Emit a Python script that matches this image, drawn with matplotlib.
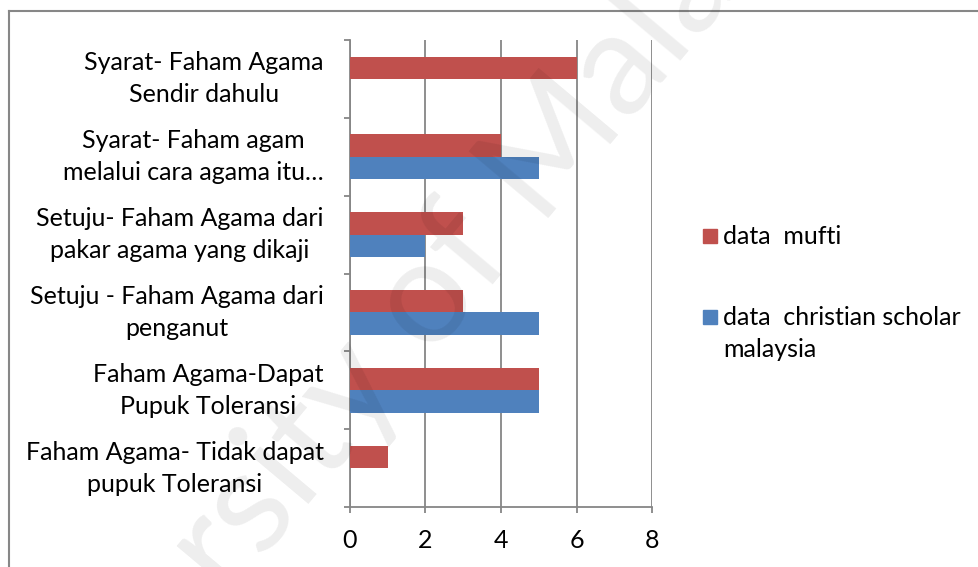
import numpy as np
import matplotlib
matplotlib.use("Agg")
import matplotlib.pyplot as plt
from matplotlib.patches import Rectangle
from matplotlib.lines import Line2D

plt.rcParams["font.family"] = ["Lato", "DejaVu Sans"]

# categories listed top to bottom, as in the chart
categories = [
    "Syarat- Faham Agama\nSendir dahulu",
    "Syarat- Faham agam\nmelalui cara agama itu\u2026",
    "Setuju- Faham Agama dari\npakar agama yang dikaji",
    "Setuju - Faham Agama dari\npenganut",
    "Faham Agama-Dapat\nPupuk Toleransi",
    "Faham Agama- Tidak dapat\npupuk Toleransi",
]
mufti = [6, 4, 3, 3, 5, 1]
christian = [0, 5, 2, 5, 5, 0]
series_names = ["data  mufti", "data  christian scholar\nmalaysia"]
x_ticks = [0, 2, 4, 6, 8]

RED, BLUE, GRID = "#C0504D", "#4F81BD", "#868686"
W, H = 979, 567
FS = 18

fig = plt.figure(figsize=(W / 100, H / 100), dpi=100)
ax = fig.add_axes([350 / W, 1 - 507 / H, 302 / W, 467 / H])

y = np.arange(len(categories))
h = 0.286
ax.barh(y - h / 2, mufti, height=h, color=RED, zorder=3)
ax.barh(y + h / 2, christian, height=h, color=BLUE, zorder=3)

ax.set_xlim(0, 8)
ax.set_ylim(len(categories) - 0.5, -0.5)
ax.set_xticks(x_ticks)
ax.set_xticklabels([str(v) for v in x_ticks], fontsize=FS)
ax.grid(axis="x", color=GRID, lw=1.3, zorder=1)

ax.set_yticks(y)
ax.set_yticklabels(categories, fontsize=FS, multialignment="center", linespacing=1.47)
for lab in ax.get_yticklabels():
    lab.set_va("center")
ax.set_yticks(np.arange(-0.5, len(categories)), minor=True)
ax.tick_params(axis="y", which="major", length=0, pad=19)
ax.tick_params(axis="y", which="minor", length=4, width=1.3, color=GRID, direction="out")
ax.tick_params(axis="x", length=4, width=1.3, color=GRID, direction="out", pad=12)

for s in ["top", "right"]:
    ax.spines[s].set_visible(False)
for s in ["left", "bottom"]:
    ax.spines[s].set_color(GRID)
    ax.spines[s].set_linewidth(1.3)

# legend drawn by hand so the swatch sits on the first line of each label
for col, name, yc in [(RED, series_names[0], 236), (BLUE, series_names[1], 317)]:
    fig.add_artist(Rectangle((703 / W, 1 - (yc + 7) / H), 14 / W, 14 / H,
                             transform=fig.transFigure, color=col))
    fig.text(723 / W, 1 - (yc - 11) / H, name, fontsize=FS, va="top", ha="left",
             linespacing=1.45, transform=fig.transFigure)

# outer frame
for xs, ys in [([9, 9], [11, H + 5]), ([9, W + 5], [11, 11])]:
    fig.add_artist(Line2D([v / W for v in xs], [1 - v / H for v in ys], color="#878787", lw=1.5))

# faint watermark
fig.text(380 / W, 1 - 355 / H, "University of Malaya", fontsize=105, color="black", alpha=0.07,
         rotation=50, ha="center", va="center", rotation_mode="anchor", zorder=10)

fig.savefig("out.png", dpi=100)
